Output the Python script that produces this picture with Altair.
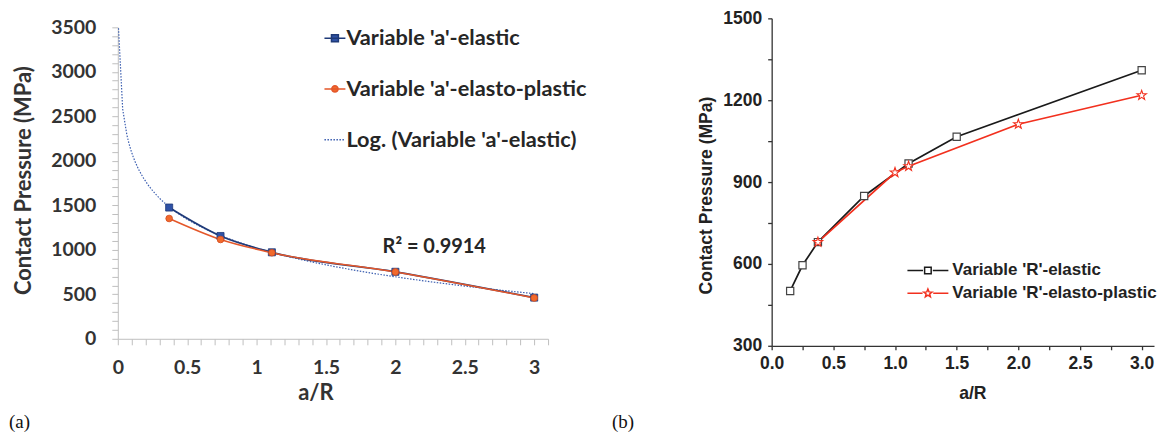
import json
import altair as alt
import pandas as pd

# ---------------- data: panel (a) ----------------
a_x = [0.37, 0.74, 1.11, 2.0, 3.0]
a_elastic = [1475, 1155, 972, 753, 463]
a_plastic = [1352, 1116, 967, 751, 459]
a_names = ["Variable 'a'-elastic", "Variable 'a'-elasto-plastic", "Log. (Variable 'a'-elastic)"]
a_r2_text = ["R² = 0.9914"]
a_r2_at_x = [2.28]
a_r2_at_y = [1027]
a_xticks = [round(i * 0.1, 1) for i in range(32)]
a_yticks = list(range(0, 3501, 100))

# ---------------- data: panel (b) ----------------
b_el_x = [0.15, 0.25, 0.375, 0.75, 1.11, 1.5, 3.0]
b_el_y = [501, 595, 680, 849, 968, 1066, 1310]
b_pl_x = [0.375, 1.0, 1.11, 2.0, 3.0]
b_pl_y = [680, 935, 958, 1112, 1218]
b_names = ["Variable 'R'-elastic", "Variable 'R'-elasto-plastic"]
b_xticks = [i * 0.25 for i in range(13)]
b_yticks = list(range(300, 1501, 150))

panel_labels = ["(a)", "(b)"]

# ---------------- styles ----------------
FA = "Lato"
FB = "Liberation Sans"
NAVY = "#1F3A78"
BLUE = "#2F52A6"
ORANGE_LINE = "#E4572A"
ORANGE = "#F26A2C"
TREND = "#3B5EB0"
BLACK = "#1A1A1A"
RED = "#F2301E"

A_W, A_H = 431, 321
A_TOP = 9
B_W, B_H = 383, 328

STAR = ("M0,-1L0.235,-0.324L0.951,-0.309L0.38,0.124L0.588,0.809L0,0.4"
        "L-0.588,0.809L-0.38,0.124L-0.951,-0.309L-0.235,-0.324Z")

# ---------------- panel (a) ----------------
df_ae = pd.DataFrame({"x": a_x, "y": a_elastic, "series": a_names[0]})
df_ap = pd.DataFrame({"x": a_x, "y": a_plastic, "series": a_names[1]})

x_a = alt.X(
    "x:Q",
    scale=alt.Scale(domain=[0, 3.1], nice=False),
    axis=alt.Axis(
        values=a_xticks,
        format="~g",
        labelExpr="abs(datum.value*2 - round(datum.value*2)) < 0.001 ? datum.label : ''",
        labelFlush=False,
        labelOverlap=False,
        grid=False,
        tickSize=6,
        tickColor="#BFBFBF",
        domainColor="#BFBFBF",
        labelPadding=14,
        labelFont=FA,
        labelFontSize=19.5,
        labelFontWeight="bold",
        labelColor="#333333",
        title="a/R",
        titleFont=FA,
        titleFontSize=22,
        titleFontWeight="bold",
        titleColor="#333333",
        titleX=198,
        titleY=54,
        titleBaseline="middle",
    ),
)
y_a = alt.Y(
    "y:Q",
    scale=alt.Scale(domain=[0, 3500], nice=False, range=[A_H, A_TOP]),
    axis=alt.Axis(
        values=a_yticks,
        format="d",
        labelExpr="datum.value % 500 === 0 ? datum.label : ''",
        labelOverlap=False,
        labelFlush=False,
        grid=False,
        tickSize=6,
        tickColor="#BFBFBF",
        domainColor="#BFBFBF",
        labelPadding=16,
        labelFont=FA,
        labelFontSize=19.5,
        labelFontWeight="bold",
        labelColor="#333333",
        title="Contact Pressure (MPa)",
        titleFont=FA,
        titleFontSize=22,
        titleFontWeight="bold",
        titleColor="#333333",
        titleAngle=270,
        titleX=-94,
        titleY=162,
        titleBaseline="middle",
        titleAlign="center",
    ),
)


def leg_a(y, sym, fill, dash=None):
    kw = dict(
        orient="none", legendX=206, legendY=y, title=None, padding=0,
        symbolType=sym, symbolSize=441, symbolStrokeWidth=1.5,
        symbolFillColor=fill, labelOffset=0, labelLimit=500,
        labelFont=FA, labelFontSize=21.75, labelFontWeight="bold", labelColor="#262626",
    )
    if dash is not None:
        kw["symbolDash"] = dash
    return alt.Legend(**kw)


SQ_LEG = "M-1,0H1M-0.33,-0.33H0.33V0.33H-0.33Z"
CI_LEG = "M-1,0H1M0.3,0A0.3,0.3,0,1,1,-0.3,0A0.3,0.3,0,1,1,0.3,0Z"
LN_LEG = "M-1,0H1"

trend = (
    alt.Chart(df_ae)
    .transform_regression("x", "y", method="log", extent=[0.005, 3.0])
    .transform_calculate(series=json.dumps(a_names[2]))
    .mark_line(strokeWidth=1.2, strokeDash=[1.5, 1.5], clip=True)
    .encode(
        x=x_a, y=y_a,
        color=alt.Color("series:N", scale=alt.Scale(domain=[a_names[2]], range=[TREND]),
                        legend=leg_a(110.2, LN_LEG, "transparent", [1.5, 1.5])),
    )
)

line_ae = alt.Chart(df_ae).mark_line(interpolate="monotone", strokeWidth=1.8).encode(
    x=x_a, y=y_a,
    color=alt.Color("series:N", scale=alt.Scale(domain=[a_names[0]], range=[NAVY]),
                    legend=leg_a(8.5, SQ_LEG, BLUE)),
)
pts_ae = alt.Chart(df_ae).mark_point(
    shape="square", filled=True, size=50, color=BLUE, stroke=NAVY, strokeWidth=0.8, opacity=1
).encode(x=x_a, y=y_a)

line_ap = alt.Chart(df_ap).mark_line(interpolate="monotone", strokeWidth=1.5).encode(
    x=x_a, y=y_a,
    color=alt.Color("series:N", scale=alt.Scale(domain=[a_names[1]], range=[ORANGE_LINE]),
                    legend=leg_a(59.2, CI_LEG, ORANGE)),
)
pts_ap = alt.Chart(df_ap).mark_point(
    shape="circle", filled=True, size=45, color=ORANGE, stroke="#D24A1E", strokeWidth=0.8, opacity=1
).encode(x=x_a, y=y_a)

r2 = alt.Chart(pd.DataFrame({"x": a_r2_at_x, "y": a_r2_at_y, "t": a_r2_text})).mark_text(
    font=FA, fontSize=20, fontWeight="bold", color="#262626"
).encode(x=x_a, y=y_a, text="t:N")

lab_a = alt.Chart(pd.DataFrame({"t": [panel_labels[0]]})).mark_text(
    font="Liberation Serif", fontSize=19, align="left", baseline="middle", color="#111111"
).encode(x=alt.value(-109), y=alt.value(404), text="t:N")

chart_a = (
    alt.layer(trend, line_ae, line_ap, pts_ae, pts_ap, r2, lab_a)
    .resolve_scale(color="independent")
    .properties(width=A_W, height=A_H)
)

# ---------------- panel (b) ----------------
df_be = pd.DataFrame({"x": b_el_x, "y": b_el_y, "series": b_names[0]})
df_bp = pd.DataFrame({"x": b_pl_x, "y": b_pl_y, "series": b_names[1]})

x_b = alt.X(
    "x:Q",
    scale=alt.Scale(domain=[0, 3.1], nice=False),
    axis=alt.Axis(
        values=b_xticks,
        format=".1f",
        labelExpr="abs(datum.value*2 - round(datum.value*2)) < 0.001 ? datum.label : ''",
        labelFlush=False,
        labelOverlap=False,
        grid=False,
        tickSize=4,
        tickWidth=1.3,
        tickColor="#333333",
        domainColor="#333333",
        domainWidth=1.3,
        labelPadding=5,
        labelFont=FB,
        labelFontSize=17.5,
        labelFontWeight="bold",
        labelColor="#222222",
        title="a/R",
        titleFont=FB,
        titleFontSize=17.6,
        titleFontWeight="bold",
        titleColor="#222222",
        titleX=201,
        titleY=48,
        titleBaseline="middle",
    ),
)
y_b = alt.Y(
    "y:Q",
    scale=alt.Scale(domain=[300, 1500], nice=False),
    axis=alt.Axis(
        values=b_yticks,
        format="d",
        labelExpr="datum.value % 300 === 0 ? datum.label : ''",
        labelOverlap=False,
        labelFlush=False,
        grid=False,
        tickSize=4,
        tickWidth=1.3,
        tickColor="#333333",
        domainColor="#333333",
        domainWidth=1.3,
        labelPadding=6,
        labelFont=FB,
        labelFontSize=17.5,
        labelFontWeight="bold",
        labelColor="#222222",
        title="Contact Pressure (MPa)",
        titleFont=FB,
        titleFontSize=17.6,
        titleFontWeight="bold",
        titleColor="#222222",
        titleAngle=270,
        titleX=-65,
        titleY=177,
        titleBaseline="middle",
        titleAlign="center",
    ),
)


def leg_b(y, sym):
    return alt.Legend(
        orient="none", legendX=135, legendY=y, title=None, padding=0,
        symbolType=sym, symbolSize=1681, symbolStrokeWidth=1.5,
        symbolFillColor="white", labelOffset=3, labelLimit=500,
        labelFont=FB, labelFontSize=17, labelFontWeight="bold", labelColor="#222222",
    )


SQ_LEG_B = "M-1,0H-0.24M0.24,0H1M-0.16,-0.16H0.16V0.16H-0.16Z"
ST_LEG_B = ("M-1,0H-0.26M0.26,0H1M0,-0.21L0.053,-0.073L0.2,-0.065L0.086,0.028L0.123,0.17"
            "L0,0.09L-0.123,0.17L-0.086,0.028L-0.2,-0.065L-0.053,-0.073Z")

line_be = alt.Chart(df_be).mark_line(strokeWidth=1.7).encode(
    x=x_b, y=y_b,
    color=alt.Color("series:N", scale=alt.Scale(domain=[b_names[0]], range=[BLACK]),
                    legend=leg_b(231, SQ_LEG_B)),
)
pts_be = alt.Chart(df_be).mark_point(
    shape="square", size=52, fill="white", stroke="#444444", strokeWidth=1.2, opacity=1
).encode(x=x_b, y=y_b)

line_bp = alt.Chart(df_bp).mark_line(strokeWidth=1.7).encode(
    x=x_b, y=y_b,
    color=alt.Color("series:N", scale=alt.Scale(domain=[b_names[1]], range=[RED]),
                    legend=leg_b(254, ST_LEG_B)),
)
pts_bp = alt.Chart(df_bp).mark_point(
    shape=STAR, size=100, fill="white", stroke=RED, strokeWidth=1.1, opacity=1
).encode(x=x_b, y=y_b)

lab_b = alt.Chart(pd.DataFrame({"t": [panel_labels[1]]})).mark_text(
    font="Liberation Serif", fontSize=19, align="left", baseline="middle", color="#111111"
).encode(x=alt.value(-160), y=alt.value(404), text="t:N")

chart_b = (
    alt.layer(line_be, line_bp, pts_be, pts_bp, lab_b)
    .resolve_scale(color="independent")
    .properties(width=B_W, height=B_H)
)

chart = (
    alt.hconcat(chart_a, chart_b, spacing=23, padding=0)
    .resolve_scale(color="independent", x="independent", y="independent")
    .configure_view(stroke="transparent")
)

chart.save("out.html", embed_options={"renderer": "svg", "actions": False})
